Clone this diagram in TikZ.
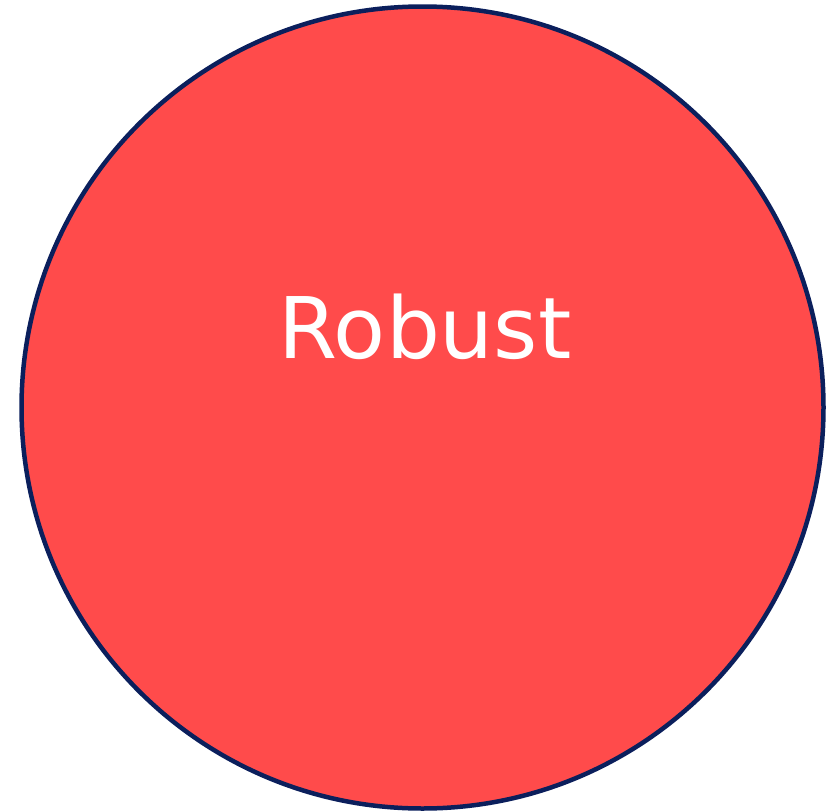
\documentclass[tikz,border=0pt]{standalone}
\usepackage{fontspec}
\setmainfont{DejaVu Sans}
\definecolor{fillred}{HTML}{FF4B4B}
\definecolor{navy}{HTML}{0B1F5C}
\begin{document}
\begin{tikzpicture}[x=1pt,y=1pt,
  bigcircle/.style={circle,draw=navy,line width=4.5pt,fill=fillred,minimum size=802pt,inner sep=0pt},
  label/.style={text=white,font=\fontsize{85}{100}\selectfont}]
\useasboundingbox (0,0) rectangle (838,-811);
\node[bigcircle] (c) at (422.5,-407.5) {};
\node[label,anchor=base] (t) at (425,-358) {Robust};
\end{tikzpicture}
\end{document}
